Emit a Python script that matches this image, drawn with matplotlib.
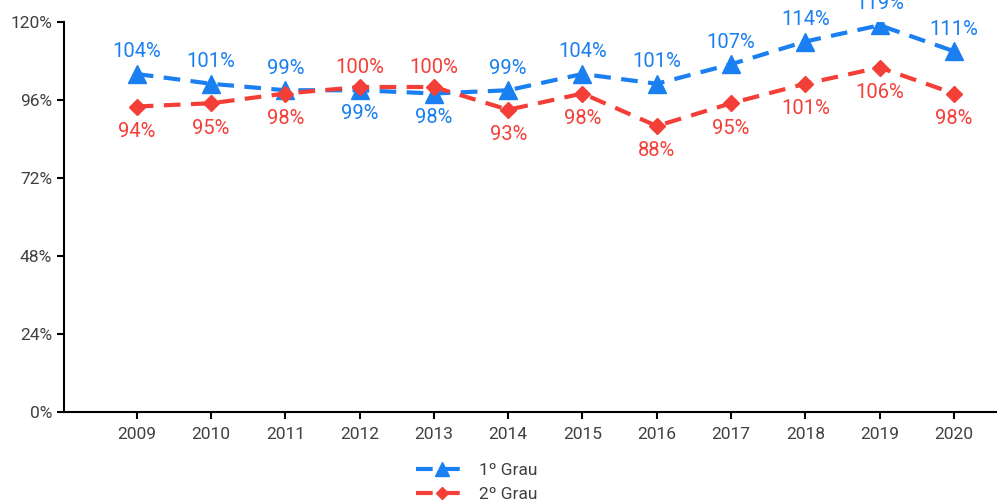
import matplotlib
matplotlib.use("Agg")
import matplotlib.pyplot as plt
import numpy as np

plt.rcParams['font.family'] = ['Roboto', 'DejaVu Sans']

years = ['2009', '2010', '2011', '2012', '2013', '2014', '2015', '2016', '2017', '2018', '2019', '2020']
grau1 = [104, 101, 99, 99, 98, 99, 104, 101, 107, 114, 119, 111]
grau2 = [94, 95, 98, 100, 100, 93, 98, 88, 95, 101, 106, 98]

blue = '#1a7ff0'
red = '#f33f38'
gray = '#404040'

fig = plt.figure(figsize=(9.97, 5.04), dpi=100)
ax = fig.add_axes([64/997, 1-412/504, 1-64/997, (412-22)/504])

x = np.arange(len(years))
ax.plot(x, grau1, color=blue, lw=3, dashes=(4, 2.5), marker='^', ms=13, label='1º Grau')
ax.plot(x, grau2, color=red, lw=3, dashes=(4, 2.5), marker='D', ms=8, label='2º Grau')

# labels: higher series goes above, lower below
for i in range(len(years)):
    b, r = grau1[i], grau2[i]
    if b >= r:
        ob, orr = 16, -18
    else:
        ob, orr = -17, 14
    ax.annotate(f'{b}%', (i, b), xytext=(0, ob), textcoords='offset points',
                ha='center', va='center', color=blue, fontsize=14.5)
    ax.annotate(f'{r}%', (i, r), xytext=(0, orr), textcoords='offset points',
                ha='center', va='center', color=red, fontsize=14.5)

ax.set_ylim(0, 120)
ax.set_yticks([0, 24, 48, 72, 96, 120])
ax.set_yticklabels([f'{v}%' for v in [0, 24, 48, 72, 96, 120]])
ax.set_xlim(-0.98, 11.58)
ax.set_xticks(x)
ax.set_xticklabels(years)
ax.tick_params(axis='both', colors='black', labelcolor=gray, labelsize=12.5, length=5, width=1.5)
ax.tick_params(axis='x', pad=6)
for s in ['top', 'right']:
    ax.spines[s].set_visible(False)
for s in ['left', 'bottom']:
    ax.spines[s].set_linewidth(1.5)

fig.legend(loc='upper center', bbox_to_anchor=(0.478, 0.112), frameon=False, fontsize=12.5,
           labelcolor=gray, handlelength=3, handletextpad=0.6, labelspacing=0.5, markerscale=0.75)

fig.savefig('out.png', dpi=100)
